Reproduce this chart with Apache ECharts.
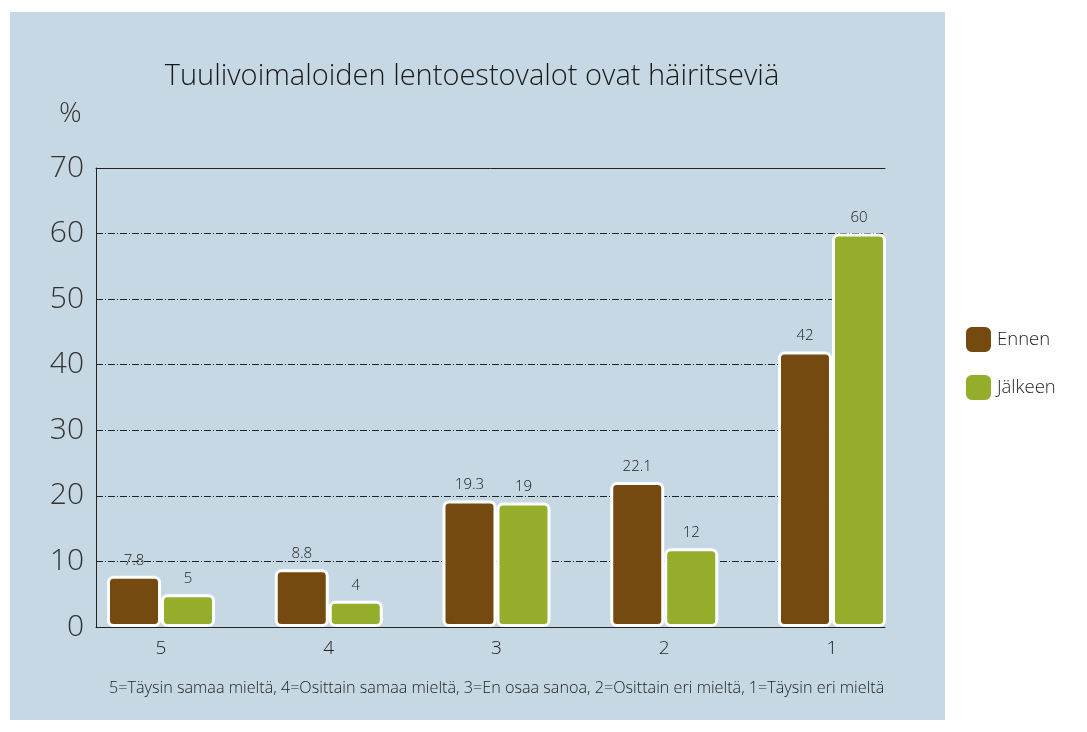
<!DOCTYPE html>
<html>
<head>
<meta charset="utf-8">
<script src="https://cdn.jsdelivr.net/npm/echarts@6/dist/echarts.min.js"></script>
<style>
html,body{margin:0;padding:0;background:#ffffff;}
#panel{position:absolute;left:10px;top:12px;width:935px;height:708px;background:#c5d8e3;}
#chart{position:absolute;left:0;top:0;width:1087px;height:732px;}
</style>
</head>
<body>
<div id="panel"></div>
<div id="chart"></div>
<script>
const categories = ['5', '4', '3', '2', '1'];
const ennen = [7.8, 8.8, 19.3, 22.1, 42];
const jalkeen = [5, 4, 19, 12, 60];
const yTicks = [0, 10, 20, 30, 40, 50, 60, 70];
const titleText = 'Tuulivoimaloiden lentoestovalot ovat häiritseviä';
const noteText = '5=Täysin samaa mieltä, 4=Osittain samaa mieltä, 3=En osaa sanoa, 2=Osittain eri mieltä, 1=Täysin eri mieltä';
const seriesNames = ['Ennen', 'Jälkeen'];

const FONT = '"Open Sans", Lato, sans-serif';
const chart = echarts.init(document.getElementById('chart'), null, {renderer: 'canvas'});
const xMin = -0.3875, xMax = 4.316;
const dashPat = [7, 2, 1, 2];

function barSeries(name, vals, color) {
  return {
    name: name,
    type: 'bar',
    data: vals.map((v, i) => [i, v]),
    barWidth: 54,
    barGap: '0%',
    itemStyle: {color: color, borderColor: '#ffffff', borderWidth: 3, borderRadius: 5},
    label: {show: true, position: 'top', distance: 8, color: '#222', fontSize: 15, fontWeight: 300, fontFamily: FONT,
      formatter: p => String(p.value[1])}
  };
}

chart.setOption({
  backgroundColor: 'transparent',
  title: {text: titleText, left: 467, top: 57, textAlign: 'center',
    textStyle: {fontSize: 29, fontWeight: 300, color: '#1a1a1a', fontFamily: FONT}},
  legend: {
    orient: 'vertical', left: 959, top: 320, itemWidth: 27, itemHeight: 27, itemGap: 19,
    icon: 'roundRect', data: seriesNames,
    textStyle: {fontSize: 18.5, fontWeight: 300, color: '#1e1e1e', fontFamily: FONT}
  },
  grid: {left: 96, width: 789, top: 168, height: 459, containLabel: false},
  xAxis: [{
    type: 'value', min: xMin, max: xMax, position: 'bottom',
    axisLine: {show: true, onZero: false, lineStyle: {color: '#222', width: 1}},
    axisTick: {show: false},
    splitLine: {show: false},
    axisLabel: {customValues: [0, 1, 2, 3, 4], formatter: v => categories[Math.round(v)] || '',
      fontSize: 19, fontWeight: 300, color: '#222', fontFamily: FONT, margin: 12}
  }, {
    type: 'value', min: xMin, max: xMax, position: 'top',
    axisLine: {show: true, onZero: false, lineStyle: {color: '#222', width: 1}},
    axisTick: {show: false}, axisLabel: {show: false}, splitLine: {show: false}
  }],
  yAxis: {
    type: 'value', min: 0, max: 70, interval: 10,
    axisLine: {show: true, onZero: false, lineStyle: {color: '#222', width: 1}},
    axisTick: {show: false},
    splitLine: {show: true, lineStyle: {color: '#222', width: 1, type: dashPat}},
    axisLabel: {customValues: yTicks, fontSize: 30, fontWeight: 300, color: '#333', fontFamily: FONT, margin: 12}
  },
  graphic: [
    {type: 'text', left: 59, top: 100, style: {text: '%', fill: '#333', font: '300 28px ' + FONT}},
    {type: 'text', left: 109, top: 680, style: {text: noteText, fill: '#222', font: '300 16.2px ' + FONT}}
  ],
  series: [
    barSeries(seriesNames[0], ennen, '#744a11'),
    barSeries(seriesNames[1], jalkeen, '#94ae2b')
  ]
});
</script>
</body>
</html>
